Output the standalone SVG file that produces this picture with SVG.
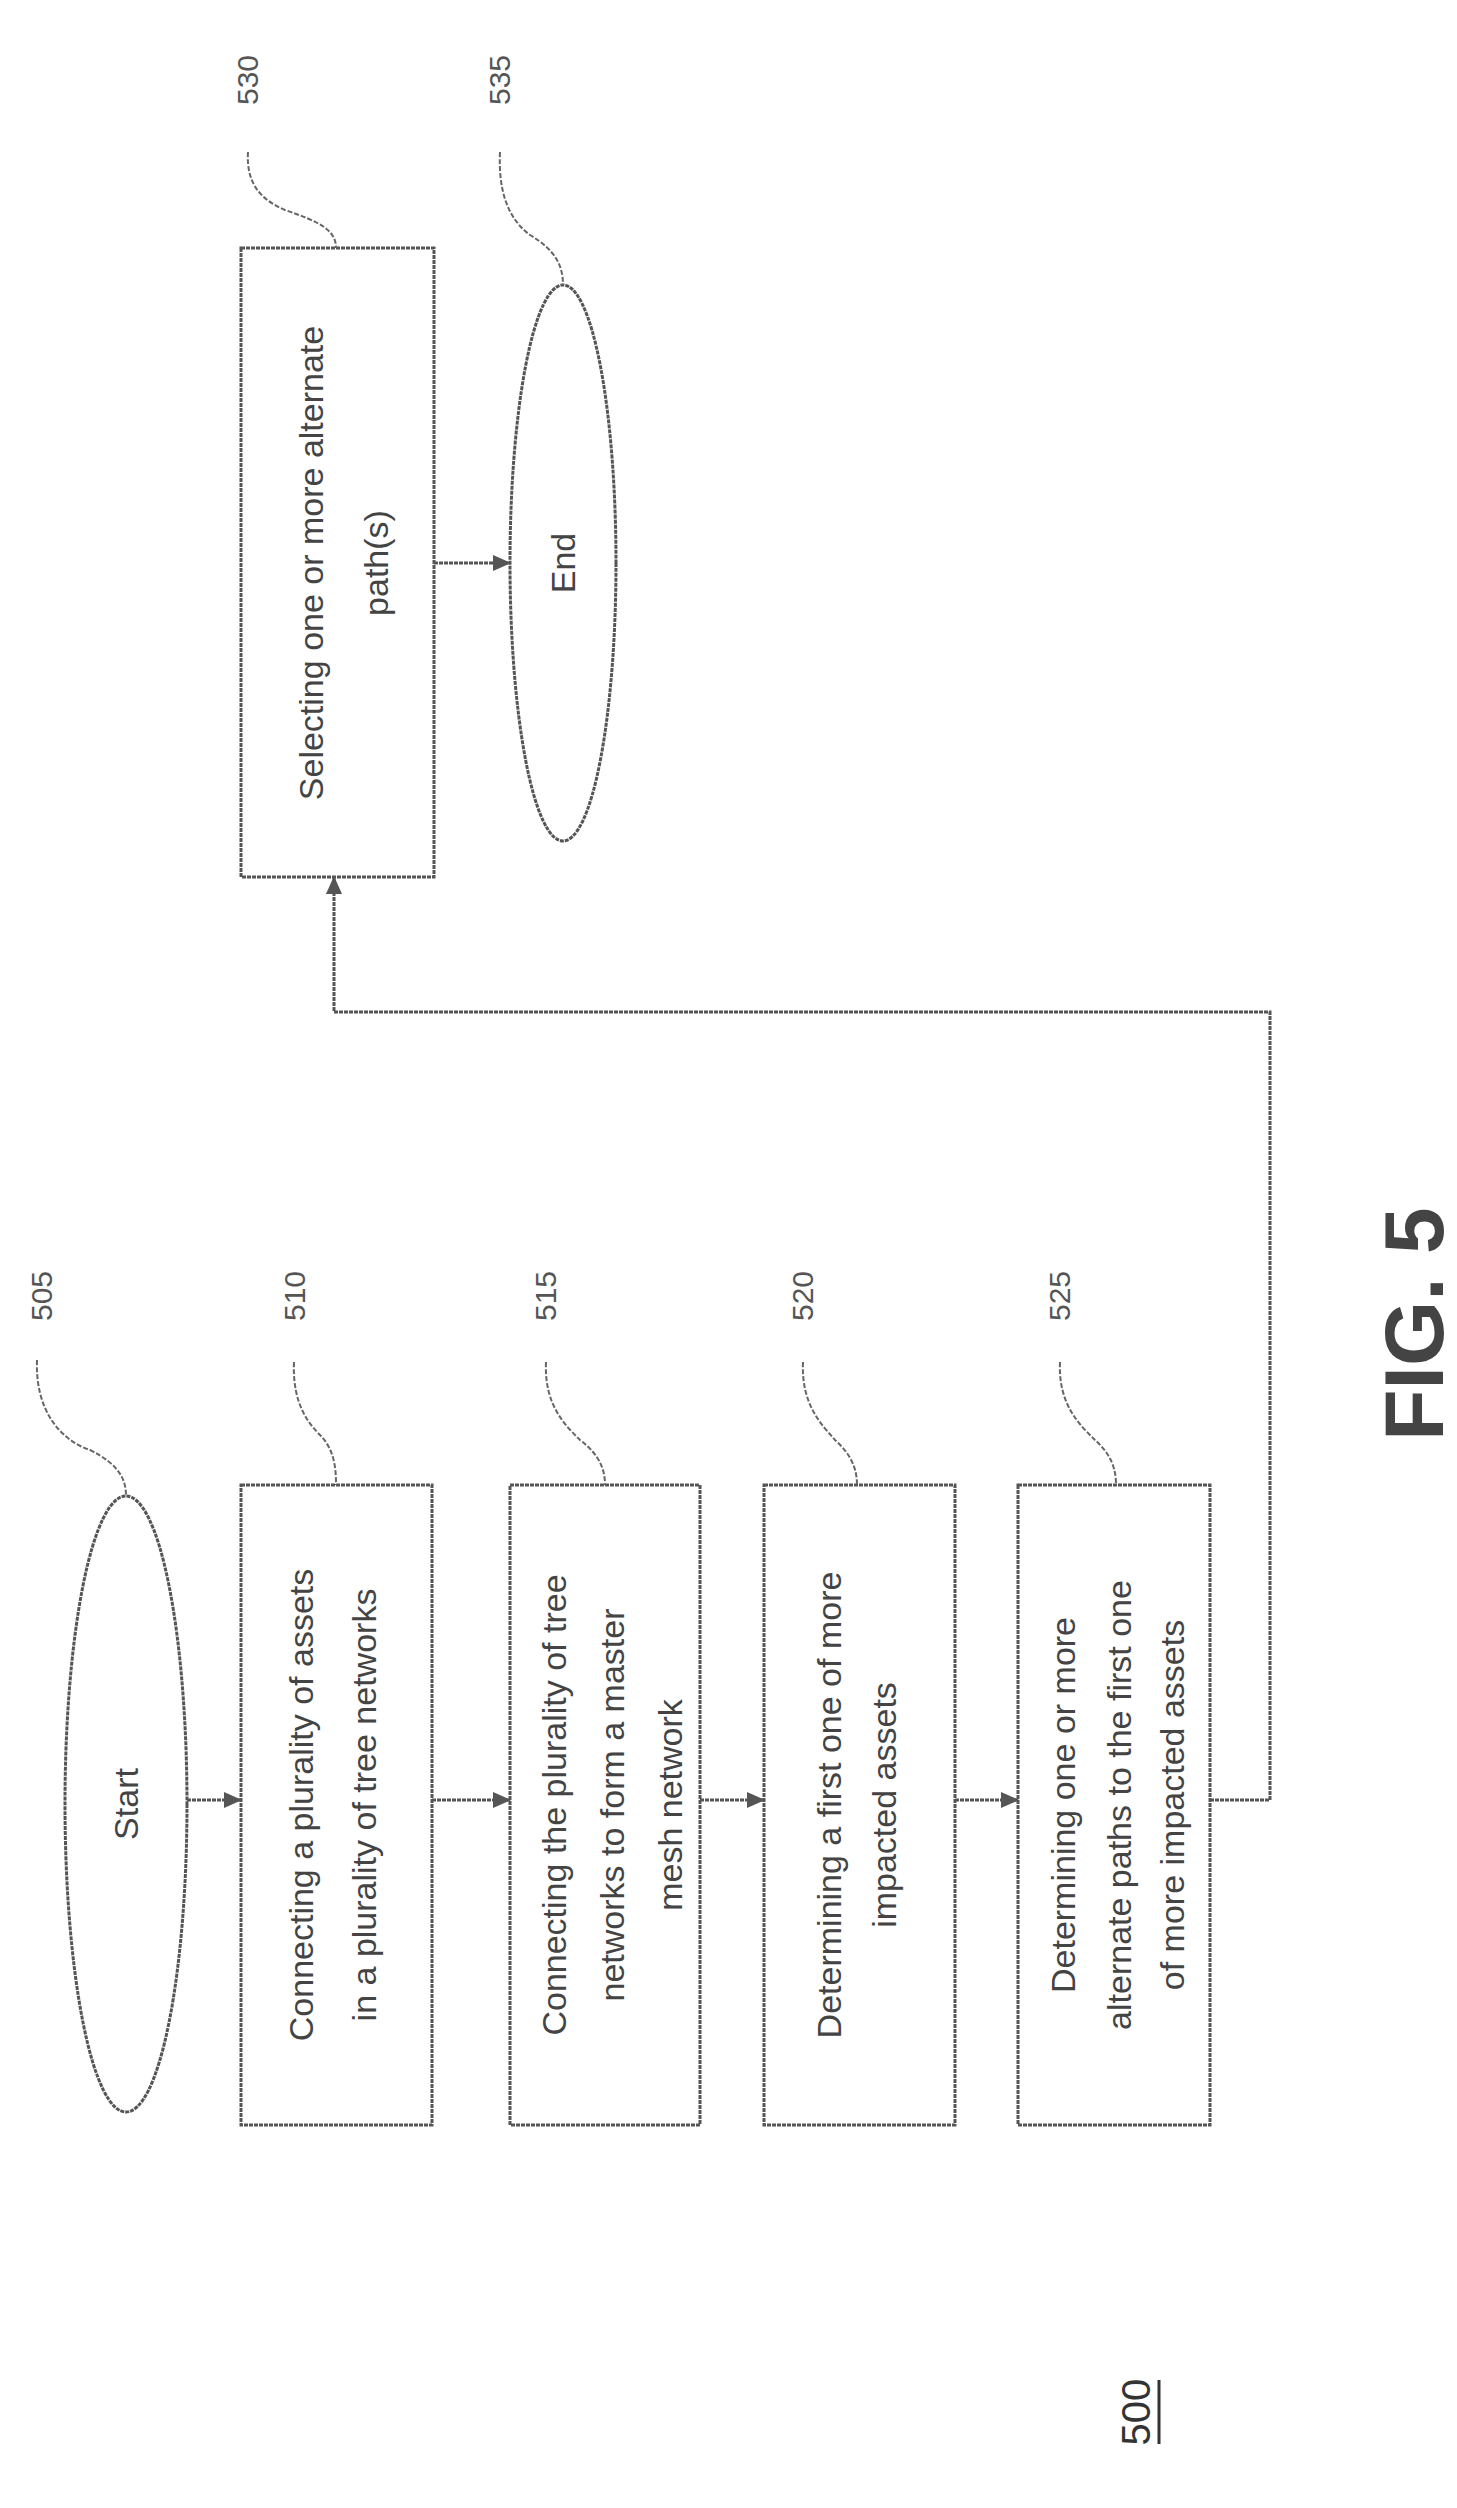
<svg xmlns="http://www.w3.org/2000/svg" width="1457" height="2508" viewBox="0 0 1457 2508">
<style>
.b{fill:#fff;stroke:#555;stroke-width:3;stroke-dasharray:4 1}
.t{font-family:"Liberation Sans",Arial,sans-serif;font-size:34px;fill:#444;text-anchor:middle}
.n{font-family:"Liberation Sans",Arial,sans-serif;font-size:30px;fill:#555;text-anchor:middle}
.c{fill:none;stroke:#555;stroke-width:3;stroke-dasharray:4 1}
.l{fill:none;stroke:#666;stroke-width:2;stroke-dasharray:5 2}
</style>
<defs>
<marker id="ah" markerWidth="18" markerHeight="18" refX="17" refY="9" orient="auto" markerUnits="userSpaceOnUse" viewBox="0 0 18 18"><path d="M0,1 L18,9 L0,17 z" fill="#555"/></marker></defs>
<g id="n505"><ellipse class="b" cx="126" cy="1804" rx="61" ry="308"/><text class="t" transform="translate(138,1804) rotate(-90)">Start</text></g>
<g id="n510"><rect class="b" x="241" y="1485" width="191" height="640"/><text class="t" transform="translate(313,1805) rotate(-90)">Connecting a plurality of assets<tspan x="0" dy="63">in a plurality of tree networks</tspan></text></g>
<g id="n515"><rect class="b" x="510" y="1485" width="190" height="640"/><text class="t" transform="translate(566,1805) rotate(-90)">Connecting the plurality of tree<tspan x="0" dy="58">networks to form a master</tspan><tspan x="0" dy="58">mesh network</tspan></text></g>
<g id="n520"><rect class="b" x="764" y="1485" width="191" height="640"/><text class="t" transform="translate(841,1805) rotate(-90)">Determining a first one of more<tspan x="0" dy="55">impacted assets</tspan></text></g>
<g id="n525"><rect class="b" x="1018" y="1485" width="192" height="640"/><text class="t" transform="translate(1075,1805) rotate(-90)">Determining one or more<tspan x="0" dy="56">alternate paths to the first one</tspan><tspan x="0" dy="53">of more impacted assets</tspan></text></g>
<g id="n530"><rect class="b" x="241" y="248" width="193" height="629"/><text class="t" transform="translate(323,563) rotate(-90)">Selecting one or more alternate<tspan x="0" dy="65">path(s)</tspan></text></g>
<g id="n535"><ellipse class="b" cx="563" cy="563" rx="53" ry="278"/><text class="t" transform="translate(575,563) rotate(-90)">End</text></g>
<g id="connectors">
<path class="c" d="M187,1800 H241" marker-end="url(#ah)"/>
<path class="c" d="M432,1800 H510" marker-end="url(#ah)"/>
<path class="c" d="M700,1800 H764" marker-end="url(#ah)"/>
<path class="c" d="M955,1800 H1018" marker-end="url(#ah)"/>
<path class="c" d="M1210,1800 H1270 V1012 H334 V877" marker-end="url(#ah)"/>
<path class="c" d="M434,563 H510" marker-end="url(#ah)"/>
</g>
<g id="labels">
<text class="n" transform="translate(52,1296) rotate(-90)">505</text>
<text class="n" transform="translate(305,1296) rotate(-90)">510</text>
<text class="n" transform="translate(556,1296) rotate(-90)">515</text>
<text class="n" transform="translate(813,1296) rotate(-90)">520</text>
<text class="n" transform="translate(1070,1296) rotate(-90)">525</text>
<text class="n" transform="translate(258,80) rotate(-90)">530</text>
<text class="n" transform="translate(510,80) rotate(-90)">535</text>
<path class="l" d="M37,1360 C35,1410 60,1440 90,1450 C120,1465 126,1480 126,1496"/>
<path class="l" d="M294,1362 C292,1405 310,1425 320,1435 C335,1450 336,1470 336,1485"/>
<path class="l" d="M546,1362 C544,1405 565,1425 580,1440 C600,1455 605,1470 605,1485"/>
<path class="l" d="M803,1362 C801,1405 822,1425 835,1440 C852,1455 857,1470 857,1485"/>
<path class="l" d="M1060,1362 C1058,1405 1080,1425 1095,1440 C1112,1455 1116,1470 1116,1485"/>
<path class="l" d="M248,152 C246,185 262,200 285,210 C320,222 336,230 336,248"/>
<path class="l" d="M500,152 C498,195 510,220 530,235 C555,250 563,265 563,285"/>
<text transform="translate(1150,2412) rotate(-90)" style="font-family:'Liberation Sans',Arial,sans-serif;font-size:40px;fill:#333;text-anchor:middle">500</text>
<line x1="1159" y1="2380" x2="1159" y2="2444" stroke="#333" stroke-width="3"/>
<text transform="translate(1443,1324) rotate(-90)" style="font-family:'Liberation Sans',Arial,sans-serif;font-size:84px;font-weight:bold;fill:#444;text-anchor:middle">FIG. 5</text>
</g>
</svg>
